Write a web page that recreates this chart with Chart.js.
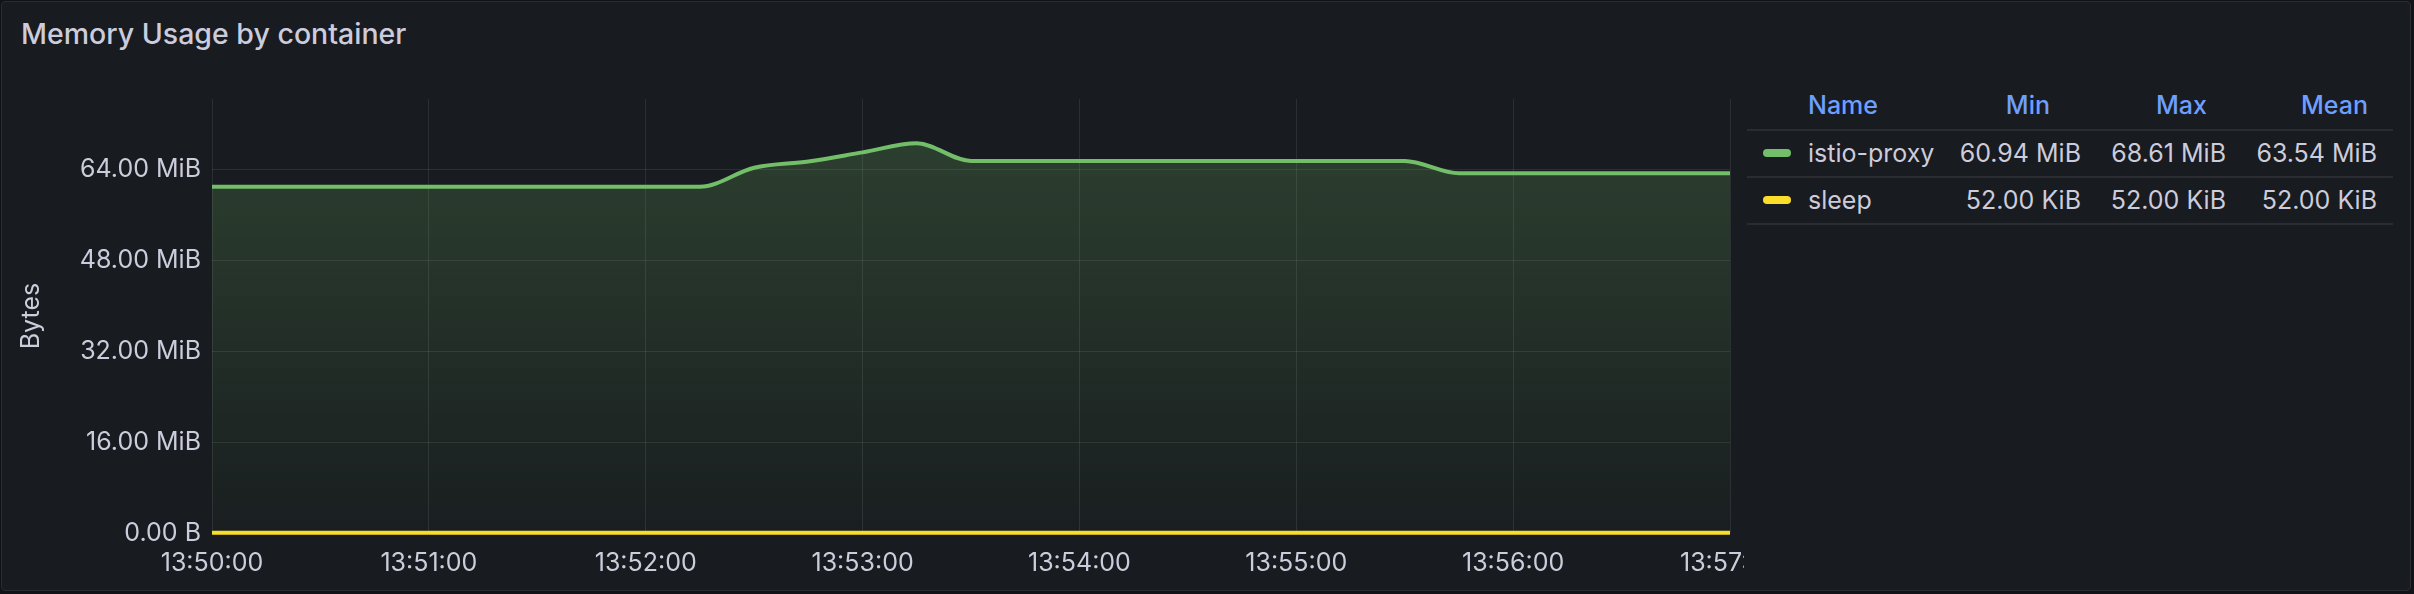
<!DOCTYPE html>
<html>
<head>
<meta charset="utf-8">
<title>Memory Usage by container</title>
<script src="https://cdn.jsdelivr.net/npm/chart.js@4.4.1/dist/chart.umd.min.js"></script>
<style>
  body { margin: 0; background: #111217; width: 2414px; height: 594px; overflow: hidden; font-family: Inter, sans-serif; color: #ccccdc; }
  #panel { position: absolute; left: 1px; top: 1px; width: 2408px; height: 588px; border: 1px solid #2a2c31; border-radius: 4px; background: #181b1f; }
  #title { position: absolute; left: 21px; top: 16px; font-size: 28.5px; font-weight: 500; line-height: 36px; white-space: nowrap; }
  #plot { position: absolute; left: 0; top: 0; width: 1744px; height: 594px; overflow: hidden; }
  #plot .box { position: relative; width: 1800px; height: 594px; }
  .cell { position: absolute; font-size: 25px; line-height: 40px; white-space: nowrap; }
  .head { color: #6e9fff; font-weight: 500; }
  .rule { position: absolute; left: 1747px; width: 646px; height: 2px; background: #2a2c31; }
  .swatch { position: absolute; left: 1763px; width: 28px; height: 8px; border-radius: 4px; }
</style>
</head>
<body>
<div id="panel"></div>
<div id="title">Memory Usage by container</div>
<div id="plot"><div class="box"><canvas id="chart"></canvas></div></div>
<div id="legend"></div>
<script>
// samples every 15s
var times = ['13:50:00', '13:50:15', '13:50:30', '13:50:45', '13:51:00', '13:51:15', '13:51:30', '13:51:45',
             '13:52:00', '13:52:15', '13:52:30', '13:52:45', '13:53:00', '13:53:15', '13:53:30', '13:53:45',
             '13:54:00', '13:54:15', '13:54:30', '13:54:45', '13:55:00', '13:55:15', '13:55:30', '13:55:45',
             '13:56:00', '13:56:15', '13:56:30', '13:56:45', '13:57:00'];

// MiB
var istioProxy = [60.94, 60.94, 60.94, 60.94, 60.94, 60.94, 60.94, 60.94,
                  60.94, 60.94, 64.3, 65.4, 67.0, 68.61, 65.5, 65.5,
                  65.5, 65.5, 65.5, 65.5, 65.5, 65.5, 65.5, 63.35,
                  63.35, 63.35, 63.35, 63.35, 63.35];

// KiB
var sleep = [52, 52, 52, 52, 52, 52, 52, 52, 52, 52, 52, 52, 52, 52, 52,
             52, 52, 52, 52, 52, 52, 52, 52, 52, 52, 52, 52, 52, 52];

var xTickLabels = ['13:50:00', '13:51:00', '13:52:00', '13:53:00', '13:54:00', '13:55:00', '13:56:00', '13:57:00'];
var yTicks = [0, 16, 32, 48, 64];

var seriesNames = ['istio-proxy', 'sleep'];
var seriesColors = ['#73bf69', '#fade2a'];
var minLabels = ['60.94 MiB', '52.00 KiB'];
var maxLabels = ['68.61 MiB', '52.00 KiB'];
var meanLabels = ['63.54 MiB', '52.00 KiB'];

function toSeconds(t) {
    var p = t.split(':');
    return (+p[0]) * 3600 + (+p[1]) * 60 + (+p[2]);
}
var start = toSeconds(times[0]);
var xs = times.map(function (t) { return toSeconds(t) - start; });

var gridColor = 'rgba(240,250,255,0.09)';
var textColor = '#ccccdc';

var ctx = document.getElementById('chart');
var chart = new Chart(ctx, {
    type: 'line',
    data: {
        datasets: [
            {
                label: seriesNames[0],
                data: xs.map(function (x, i) { return { x: x, y: istioProxy[i] }; }),
                borderColor: seriesColors[0],
                borderWidth: 4,
                pointRadius: 0,
                clip: 4,
                cubicInterpolationMode: 'monotone',
                fill: 'origin',
                backgroundColor: function (c) {
                    var a = c.chart.chartArea;
                    if (!a) return 'rgba(115,191,105,0.15)';
                    var top = c.chart.scales.y.getPixelForValue(Math.max.apply(null, istioProxy));
                    var g = c.chart.ctx.createLinearGradient(0, top, 0, a.bottom);
                    g.addColorStop(0, 'rgba(115,191,105,0.22)');
                    g.addColorStop(1, 'rgba(115,191,105,0.02)');
                    return g;
                }
            },
            {
                label: seriesNames[1],
                data: xs.map(function (x, i) { return { x: x, y: sleep[i] / 1024 }; }),
                borderColor: seriesColors[1],
                borderWidth: 4,
                pointRadius: 0,
                clip: 4,
                fill: false
            }
        ]
    },
    options: {
        responsive: true,
        maintainAspectRatio: false,
        animation: false,
        devicePixelRatio: 1,
        layout: { padding: { top: 99, right: 70, bottom: 0, left: 0 } },
        plugins: { legend: { display: false }, tooltip: { enabled: false } },
        scales: {
            x: {
                type: 'linear',
                min: 0,
                max: 420,
                grid: { color: gridColor, drawTicks: false },
                border: { display: false },
                ticks: {
                    stepSize: 60,
                    autoSkip: false,
                    maxRotation: 0,
                    padding: 15,
                    color: textColor,
                    font: { family: 'Inter', size: 25 },
                    callback: function (v) { return xTickLabels[Math.round(v / 60)]; }
                },
                afterFit: function (s) { s.height = 61; }
            },
            y: {
                min: 0,
                max: 76.4,
                grid: { color: gridColor, drawTicks: false },
                border: { display: false },
                ticks: {
                    stepSize: 16,
                    padding: 11,
                    color: textColor,
                    font: { family: 'Inter', size: 25 },
                    callback: function (v) { return v === 0 ? '0.00 B' : v.toFixed(2) + ' MiB'; }
                },
                afterBuildTicks: function (s) {
                    s.ticks = yTicks.map(function (v) { return { value: v }; });
                },
                title: {
                    display: true,
                    text: 'Bytes',
                    color: textColor,
                    font: { family: 'Inter', size: 25 },
                    padding: { top: 16, bottom: 0 }
                },
                afterFit: function (s) { s.width = 212; }
            }
        }
    }
});

// legend table
var legend = document.getElementById('legend');
function cell(text, cls, cy, left, right) {
    var d = document.createElement('div');
    d.className = 'cell ' + (cls || '');
    d.textContent = text;
    d.style.top = (cy - 20) + 'px';
    if (left != null) d.style.left = left + 'px';
    if (right != null) d.style.right = (2414 - right) + 'px';
    legend.appendChild(d);
}
function rule(y) {
    var d = document.createElement('div');
    d.className = 'rule';
    d.style.top = y + 'px';
    legend.appendChild(d);
}

cell('Name', 'head', 105, 1808, null);
cell('Min', 'head', 105, null, 2050);
cell('Max', 'head', 105, null, 2207);
cell('Mean', 'head', 105, null, 2368);
rule(129);

var rowY = [153, 200];
for (var i = 0; i < seriesNames.length; i++) {
    var sw = document.createElement('div');
    sw.className = 'swatch';
    sw.style.top = (rowY[i] - 4) + 'px';
    sw.style.background = seriesColors[i];
    legend.appendChild(sw);
    cell(seriesNames[i], '', rowY[i], 1808, null);
    cell(minLabels[i], '', rowY[i], null, 2081);
    cell(maxLabels[i], '', rowY[i], null, 2226);
    cell(meanLabels[i], '', rowY[i], null, 2377);
    rule(rowY[i] + 23);
}
</script>
</body>
</html>
